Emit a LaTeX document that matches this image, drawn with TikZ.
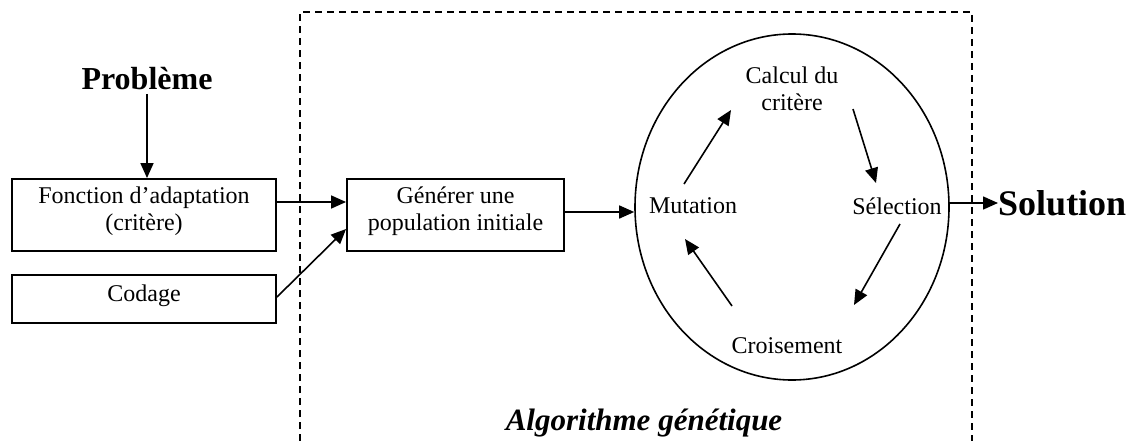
\documentclass[tikz,border=0pt]{standalone}
\usepackage{fontspec}
\setmainfont{Liberation Serif}
\usetikzlibrary{arrows.meta,shapes.geometric}

\tikzset{
	boite/.style={draw, line width=1.9pt, inner sep=0pt, align=center, text depth=12pt},
	etape/.style={inner sep=2pt, align=center},
	fl/.style={->, line width=1.6pt}
}

\begin{document}
\begin{tikzpicture}[x=1pt, y=-1pt, every node/.style={font=\fontsize{24}{27}\selectfont}, >={Triangle[length=15pt,width=13pt]}]
	\useasboundingbox (0,0) rectangle (1135,441);
	% cadre de l'algorithme
	\draw[line width=1.8pt, dash pattern=on 7pt off 5pt] (300,441) -- (300,12) -- (972,12) -- (972,441);
	\node[font=\fontsize{31}{34}\selectfont\bfseries\itshape, anchor=base] (algo) at (644,430) {Algorithme génétique};
	% entrees
	\node[font=\fontsize{32}{36}\selectfont\bfseries] (prob) at (147,79) {Problème};
	\node[boite, minimum width=264, minimum height=72] (fonc) at (144,215) {Fonction d’adaptation\\(critère)};
	\node[boite, minimum width=264, minimum height=48] (codage) at (144,299) {Codage};
	\node[boite, minimum width=217, minimum height=72] (gen) at (455.5,215) {Générer une\\population initiale};
	% cycle
	\node[draw, ellipse, line width=1.6pt, minimum width=314, minimum height=346, inner sep=0pt] (cycle) at (792,207) {};
	\node[etape] (calc) at (792,89) {Calcul du\\critère};
	\node[etape] (mut) at (693,206) {Mutation};
	\node[etape] (sel) at (897,206) {Sélection};
	\node[etape] (crois) at (787,346) {Croisement};
	\node[font=\fontsize{36}{40}\selectfont\bfseries, anchor=west, inner sep=0pt] (sol) at (998,203) {Solution};
	% fleches
	\coordinate (gsort) at ([yshift=3pt]gen.east);
	\coordinate (csort) at ([yshift=4pt]cycle.east);
	\draw[fl] (prob.south) -- (prob.south |- fonc.north);
	\draw[fl] ([shift={(0,-13)}]fonc.east) -- ([shift={(0,-13)}]gen.west);
	\draw[fl] ([shift={(0,-2)}]codage.east) -- ([shift={(0,14)}]gen.west);
	\draw[fl] (gsort) -- (gsort -| cycle.west);
	\draw[fl] (csort) -- (csort -| sol.west);
	\draw[fl] ([shift={(-9,-22)}]mut.center) -- ([shift={(-61,21)}]calc.center);
	\draw[fl] ([shift={(61,20)}]calc.center) -- ([shift={(-21,-23)}]sel.center);
	\draw[fl] ([shift={(3,18)}]sel.center) -- ([shift={(67,-41)}]crois.center);
	\draw[fl] ([shift={(-55,-40)}]crois.center) -- ([shift={(-8,33)}]mut.center);
\end{tikzpicture}
\end{document}
